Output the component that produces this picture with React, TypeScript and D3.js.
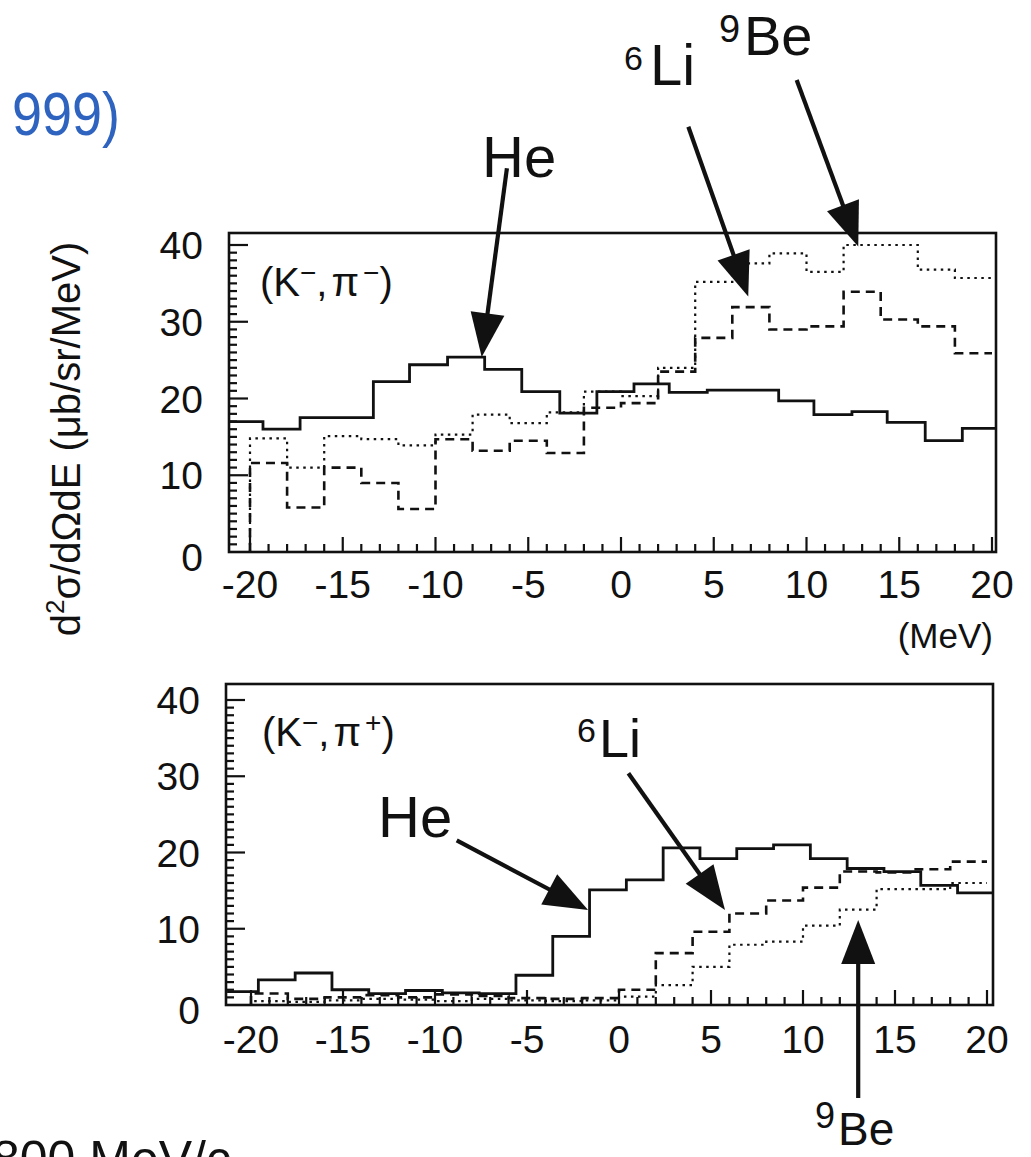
import React from "react";
import * as d3 from "d3";

// ---------- DATA ----------
// Top panel (K-, pi-)
const topSolidEdges = [-21.1, -19.3, -17.3, -15.3, -13.35, -11.4, -9.35, -7.35, -5.35, -3.3, -1.3, 0.7, 2.6, 4.65, 6.55, 8.5, 10.4, 12.45, 14.35, 16.4, 18.4, 20.2];
const topSolidHe = [17, 16, 17.5, 17.5, 22.2, 24.4, 25.4, 23.8, 20.9, 18.1, 20.9, 21.9, 20.8, 21.1, 21.1, 19.7, 17.9, 18.3, 16.9, 14.5, 16.1];
const evenEdges = [-20, -18, -16, -14, -12, -10, -8, -6, -4, -2, 0, 2, 4, 6, 8, 10, 12, 14, 16, 18, 20];
const topDashedLi = [11.6, 5.8, 11.0, 9.0, 5.6, 14.7, 13.2, 14.5, 12.9, 18.8, 19.4, 23.5, 27.9, 31.9, 29.0, 29.4, 33.9, 30.3, 29.4, 25.9];
const topDottedBe = [14.8, 11.0, 15.1, 14.7, 13.9, 15.3, 17.9, 16.8, 18.2, 20.9, 20.3, 24.0, 35.2, 37.6, 38.9, 36.5, 40.0, 40.0, 36.8, 35.7];

// Bottom panel (K-, pi+)
const botSolidEdges = [-21.3, -19.6, -17.6, -15.6, -13.6, -11.6, -9.6, -7.6, -5.6, -3.6, -1.6, 0.4, 2.4, 4.4, 6.4, 8.4, 10.4, 12.4, 14.4, 16.4, 18.4, 20.3];
const botSolidHe = [1.75, 3.3, 4.2, 2.0, 1.5, 1.9, 1.6, 1.5, 3.9, 9.0, 15.1, 16.4, 20.6, 19.2, 20.5, 21.0, 19.2, 17.9, 17.5, 15.7, 14.7];
const botDashedLi = [1.5, 0.8, 1.0, 1.3, 1.0, 1.4, 1.2, 0.9, 0.8, 0.9, 2.0, 6.8, 9.6, 12.0, 13.7, 15.4, 17.5, 17.4, 17.8, 18.8];
const botDottedBe = [0.5, 0.4, 0.6, 0.8, 0.7, 0.5, 0.8, 0.6, 0.5, 0.6, 1.1, 2.6, 5.0, 7.9, 8.3, 10.4, 12.5, 15.2, 15.2, 16.0];

const xTickLabels = [-20, -15, -10, -5, 0, 5, 10, 15, 20];
const yTickLabels = [0, 10, 20, 30, 40];

// annotation arrows in data coords
const topArrows = [
  { name: "He", tail: [-6.15, 50.0], tip: [-7.51, 25.4] },
  { name: "6Li", tail: [3.63, 55.4], tip: [6.86, 33.3] },
  { name: "9Be", tail: [9.47, 61.5], tip: [12.79, 39.8] },
];
const botArrows = [
  { name: "He", tail: [-8.82, 21.6], tip: [-1.68, 12.46] },
  { name: "6Li", tail: [0.51, 30.4], tip: [5.76, 12.46] },
  { name: "9Be", tail: [13.0, -12.2], tip: [13.0, 11.15] },
];

const FONT = "'Liberation Sans', Arial, Helvetica, sans-serif";
const INK = "#111";

type Panel = {
  left: number; right: number; top: number; bottom: number;
  x: d3.ScaleLinear<number, number>; y: d3.ScaleLinear<number, number>;
};

function stepPath(p: Panel, edges: number[], vals: number[], fromZero: boolean) {
  const pts: [number, number][] = [];
  if (fromZero) pts.push([edges[0], 0]);
  vals.forEach((v, i) => {
    pts.push([edges[i], v]);
    pts.push([edges[i + 1], v]);
  });
  const line = d3.line<[number, number]>().x((d) => p.x(d[0])).y((d) => p.y(d[1]));
  return line(pts) || "";
}

function Arrow({ p, tail, tip }: { p: Panel; tail: number[]; tip: number[] }) {
  const x1 = p.x(tail[0]), y1 = p.y(tail[1]);
  const x2 = p.x(tip[0]), y2 = p.y(tip[1]);
  const dx = x2 - x1, dy = y2 - y1;
  const len = Math.hypot(dx, dy);
  const ux = dx / len, uy = dy / len;
  const hl = 44, hw = 17;
  const bx = x2 - ux * hl, by = y2 - uy * hl;
  const pts = [
    [x2, y2],
    [bx - uy * hw, by + ux * hw],
    [bx + uy * hw, by - ux * hw],
  ];
  return (
    <g>
      <line x1={x1} y1={y1} x2={bx + ux * 4} y2={by + uy * 4} stroke={INK} strokeWidth={4.2} />
      <polygon points={pts.map((q) => q.join(",")).join(" ")} fill={INK} />
    </g>
  );
}

function Axes({ p, xLabelY }: { p: Panel; xLabelY: number }) {
  const xMinor = d3.range(-20, 21, 1);
  const yMinor = d3.range(1, 41, 1);
  return (
    <g>
      <rect x={p.left} y={p.top} width={p.right - p.left} height={p.bottom - p.top} fill="none" stroke={INK} strokeWidth={2.6} />
      {xMinor.map((t) => {
        const major = t % 5 === 0;
        return <line key={"x" + t} x1={p.x(t)} x2={p.x(t)} y1={p.bottom} y2={p.bottom - (major ? 15 : 8)} stroke={INK} strokeWidth={2.2} />;
      })}
      {yMinor.map((t) => {
        const major = t % 10 === 0;
        return <line key={"y" + t} x1={p.left} x2={p.left + (major ? 19 : 8)} y1={p.y(t)} y2={p.y(t)} stroke={INK} strokeWidth={2.2} />;
      })}
      {xTickLabels.map((t) => (
        <text key={"xl" + t} x={p.x(t)} y={xLabelY} textAnchor="middle" fontSize={39} fontFamily={FONT} fill={INK}>
          {t < 0 ? "-" + Math.abs(t) : String(t)}
        </text>
      ))}
      {yTickLabels.map((t) => (
        <text key={"yl" + t} x={p.left - 26} y={p.y(t) + 14 + (t === 0 ? 5 : 0)} textAnchor="end" fontSize={39} fontFamily={FONT} fill={INK}>
          {t}
        </text>
      ))}
    </g>
  );
}

export default function App() {
  const topP: Panel = {
    left: 229, right: 996, top: 233, bottom: 552,
    x: d3.scaleLinear().domain([-20, 20]).range([250, 992]),
    y: d3.scaleLinear().domain([0, 40]).range([552, 245]),
  };
  const botP: Panel = {
    left: 226, right: 993, top: 684, bottom: 1005,
    x: d3.scaleLinear().domain([-20, 20]).range([251, 987]),
    y: d3.scaleLinear().domain([0, 40]).range([1005, 700]),
  };

  const dashed = "9,6";
  const dotted = "2.5,4.5";

  return (
    <svg width={1031} height={1157} viewBox="0 0 1031 1157" style={{ display: "block", position: "absolute", left: 0, top: 0, background: "#fff" }}>
      <rect x={0} y={0} width={1031} height={1157} fill="#fff" />
      {/* partially visible header */}
      <text x={12} y={135} fontSize={62} fontFamily={FONT} fill="#2f63c0" textLength={108} lengthAdjust="spacingAndGlyphs">999)</text>

      {/* y-axis title */}
      <text transform="translate(80,439) rotate(-90)" textAnchor="middle" fontSize={40} fontFamily={FONT} fill={INK}>
        d<tspan fontSize={26} dy={-16}>2</tspan><tspan dy={16}>σ/dΩdE (μb/sr/MeV)</tspan>
      </text>

      {/* ---------- TOP PANEL ---------- */}
      <Axes p={topP} xLabelY={598} />
      <path d={stepPath(topP, evenEdges, topDottedBe, true)} fill="none" stroke={INK} strokeWidth={2.2} strokeDasharray={dotted} />
      <path d={stepPath(topP, evenEdges, topDashedLi, true)} fill="none" stroke={INK} strokeWidth={2.6} strokeDasharray={dashed} />
      <path d={stepPath(topP, topSolidEdges, topSolidHe, false)} fill="none" stroke={INK} strokeWidth={2.8} />
      <text x={260} y={296} fontSize={40} fontFamily={FONT} fill={INK}>
        (K<tspan fontSize={28} dy={-14}>−</tspan><tspan dy={14}>,</tspan><tspan dx={4}>π</tspan><tspan fontSize={28} dy={-14} dx={4}>−</tspan><tspan dy={14}>)</tspan>
      </text>
      {topArrows.map((a) => <Arrow key={"ta" + a.name} p={topP} tail={a.tail} tip={a.tip} />)}
      <text x={482} y={177} fontSize={58} fontFamily={FONT} fill={INK}>He</text>
      <text x={624} y={70} fontSize={34} fontFamily={FONT} fill={INK}>6</text>
      <text x={650} y={85} fontSize={58} fontFamily={FONT} fill={INK}>Li</text>
      <text x={719} y={42} fontSize={38} fontFamily={FONT} fill={INK}>9</text>
      <text x={744} y={55} fontSize={56} fontFamily={FONT} fill={INK}>Be</text>
      <text x={993} y={648} textAnchor="end" fontSize={35} fontFamily={FONT} fill={INK}>(MeV)</text>

      {/* ---------- BOTTOM PANEL ---------- */}
      <Axes p={botP} xLabelY={1053} />
      <path d={stepPath(botP, evenEdges, botDottedBe, true)} fill="none" stroke={INK} strokeWidth={2.2} strokeDasharray={dotted} />
      <path d={stepPath(botP, evenEdges, botDashedLi, true)} fill="none" stroke={INK} strokeWidth={2.6} strokeDasharray={dashed} />
      <path d={stepPath(botP, botSolidEdges, botSolidHe, false)} fill="none" stroke={INK} strokeWidth={2.8} />
      <text x={262} y={746} fontSize={40} fontFamily={FONT} fill={INK}>
        (K<tspan fontSize={28} dy={-14}>−</tspan><tspan dy={14}>,</tspan><tspan dx={4}>π</tspan><tspan fontSize={28} dy={-14} dx={4}>+</tspan><tspan dy={14}>)</tspan>
      </text>
      {botArrows.map((a) => <Arrow key={"ba" + a.name} p={botP} tail={a.tail} tip={a.tip} />)}
      <text x={378} y={837} fontSize={58} fontFamily={FONT} fill={INK}>He</text>
      <text x={577} y={742} fontSize={34} fontFamily={FONT} fill={INK}>6</text>
      <text x={599} y={757} fontSize={54} fontFamily={FONT} fill={INK}>Li</text>
      <text x={815} y={1128} fontSize={36} fontFamily={FONT} fill={INK}>9</text>
      <text x={838} y={1145} fontSize={46} fontFamily={FONT} fill={INK}>Be</text>

      {/* partially visible footer */}
      <text x={-8} y={1176} fontSize={50} fontFamily={FONT} fill={INK}>800 MeV/c</text>
    </svg>
  );
}
